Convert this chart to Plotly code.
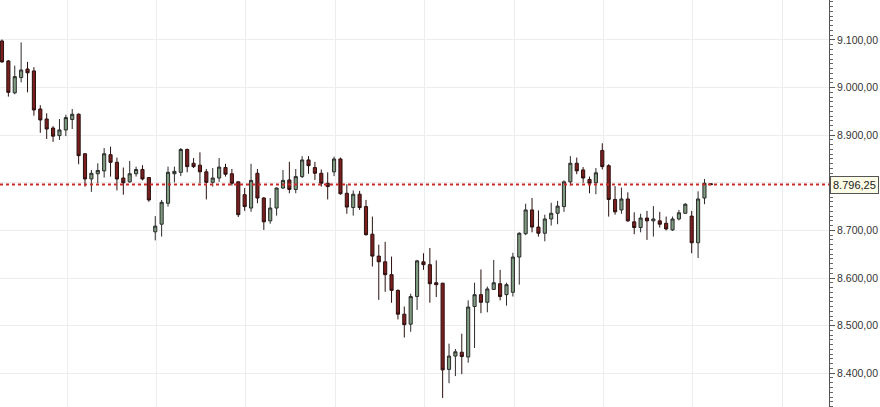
import plotly.graph_objects as go

# OHLC values (one entry per candle, left to right)
opens = [9098, 9056, 8989, 9021, 9039, 9035, 8955, 8934, 8915, 8899, 8911, 8933, 8944, 8861, 8808, 8819,
         8825, 8859, 8843, 8810, 8802, 8819, 8828, 8811, 8697, 8713, 8757, 8819, 8822, 8870, 8841, 8837,
         8823, 8801, 8810, 8832, 8819, 8802, 8775, 8747, 8820, 8768, 8720, 8747, 8789, 8806, 8786, 8813,
         8848, 8832, 8820, 8799, 8823, 8850, 8778, 8748, 8776, 8750, 8692, 8646, 8634, 8607, 8574, 8524,
         8503, 8561, 8634, 8628, 8590, 8589, 8408, 8436, 8444, 8434, 8540, 8565, 8549, 8576, 8588, 8565,
         8570, 8644, 8693, 8743, 8707, 8694, 8724, 8736, 8750, 8802, 8841, 8827, 8807, 8800, 8868, 8836,
         8765, 8743, 8766, 8718, 8706, 8726, 8720, 8720, 8715, 8701, 8724, 8736, 8730, 8674, 8768, 8798]
highs = [9101, 9058, 9046, 9095, 9054, 9043, 8963, 8946, 8919, 8934, 8943, 8955, 8946, 8862, 8827, 8841,
         8873, 8876, 8853, 8832, 8846, 8834, 8837, 8812, 8730, 8764, 8834, 8834, 8873, 8872, 8852, 8864,
         8829, 8831, 8852, 8840, 8829, 8803, 8789, 8840, 8829, 8770, 8768, 8790, 8827, 8844, 8829, 8856,
         8856, 8844, 8828, 8822, 8855, 8853, 8797, 8784, 8783, 8764, 8729, 8670, 8676, 8645, 8576, 8540,
         8567, 8638, 8652, 8663, 8637, 8590, 8462, 8451, 8483, 8553, 8590, 8618, 8582, 8638, 8617, 8590,
         8653, 8696, 8756, 8768, 8742, 8733, 8758, 8762, 8805, 8856, 8853, 8833, 8813, 8831, 8883, 8839,
         8793, 8790, 8780, 8738, 8735, 8741, 8751, 8739, 8729, 8729, 8743, 8757, 8741, 8782, 8808, 8799]
lows = [9052, 8981, 8986, 9011, 8990, 8941, 8905, 8892, 8886, 8890, 8898, 8913, 8839, 8792, 8781, 8799,
        8811, 8813, 8784, 8775, 8800, 8813, 8805, 8760, 8679, 8687, 8750, 8801, 8814, 8822, 8831, 8799,
        8765, 8792, 8802, 8813, 8794, 8728, 8741, 8739, 8757, 8701, 8714, 8731, 8787, 8778, 8778, 8810,
        8819, 8806, 8792, 8765, 8814, 8775, 8735, 8731, 8743, 8689, 8624, 8554, 8571, 8548, 8513, 8475,
        8487, 8533, 8617, 8548, 8560, 8348, 8379, 8394, 8398, 8422, 8453, 8526, 8528, 8575, 8553, 8542,
        8561, 8586, 8690, 8696, 8687, 8677, 8710, 8713, 8739, 8794, 8818, 8800, 8778, 8776, 8828, 8729,
        8733, 8735, 8718, 8692, 8696, 8680, 8687, 8706, 8700, 8699, 8721, 8735, 8652, 8642, 8755, 8795]
closes = [9054, 8990, 9023, 9037, 9031, 8953, 8932, 8913, 8898, 8911, 8937, 8944, 8857, 8808, 8820, 8826,
          8861, 8843, 8808, 8800, 8819, 8828, 8808, 8764, 8709, 8759, 8822, 8824, 8870, 8834, 8834, 8823,
          8801, 8810, 8833, 8818, 8799, 8733, 8750, 8805, 8768, 8718, 8747, 8789, 8805, 8786, 8813, 8848,
          8836, 8820, 8799, 8792, 8850, 8777, 8749, 8776, 8748, 8691, 8646, 8634, 8607, 8574, 8524, 8502,
          8561, 8636, 8628, 8588, 8586, 8407, 8436, 8445, 8435, 8539, 8565, 8549, 8577, 8590, 8561, 8586,
          8644, 8694, 8743, 8707, 8694, 8724, 8736, 8751, 8802, 8841, 8825, 8810, 8799, 8821, 8834, 8765,
          8739, 8766, 8720, 8706, 8726, 8720, 8724, 8713, 8703, 8724, 8737, 8755, 8674, 8766, 8799, 8796.25]

last_price = 8796.25
last_label = "8.796,25"
y_ticks = [8400, 8500, 8600, 8700, 8800, 8900, 9000, 9100]
y_labels = ["8.400,00", "8.500,00", "8.600,00", "8.700,00", "", "8.900,00", "9.000,00", "9.100,00"]

x = list(range(len(opens)))

fig = go.Figure()
fig.add_trace(go.Candlestick(
    x=x, open=opens, high=highs, low=lows, close=closes,
    increasing=dict(line=dict(color="#2b2b2b", width=1), fillcolor="#7f9c80"),
    decreasing=dict(line=dict(color="#2b1010", width=1), fillcolor="#7a1e1e"),
    whiskerwidth=0,
    showlegend=False,
    hoverinfo="skip",
))

fig.add_shape(type="line", xref="paper", x0=0, x1=1, yref="y", y0=last_price, y1=last_price,
              line=dict(color="#cc2a2a", width=2, dash="dot"), layer="above")

fig.add_annotation(xref="paper", x=1, xanchor="left", xshift=1, yref="y", y=last_price,
                   text=last_label, showarrow=False,
                   font=dict(family="Liberation Sans, Arial, sans-serif", size=11, color="#222"),
                   bgcolor="#fbfbe6", bordercolor="#555", borderwidth=1, borderpad=2)

fig.update_layout(
    width=880, height=407,
    margin=dict(l=0, r=51, t=0, b=0),
    paper_bgcolor="white", plot_bgcolor="white",
    font=dict(family="Liberation Sans, Arial, sans-serif", size=11, color="#333"),
    xaxis=dict(range=[-0.31, 129.5], rangeslider=dict(visible=False), showticklabels=False,
               ticks="", showgrid=True, gridcolor="#ededed", gridwidth=1,
               tick0=10.2, dtick=14, tickmode="linear", zeroline=False, showline=False),
    yaxis=dict(range=[8329, 9184], side="right", tickmode="array", tickvals=y_ticks,
               ticktext=y_labels, ticks="outside", ticklen=5, tickcolor="#555",
               showline=True, linecolor="#555", linewidth=1,
               showgrid=True, gridcolor="#ededed", gridwidth=1, zeroline=False,
               minor=dict(dtick=10, tick0=0, ticks="outside", ticklen=3, tickcolor="#666", showgrid=False),
               tickfont=dict(size=10.5, color="#333")),
)

fig.write_html("out.html", config={"displayModeBar": False},
               post_script="document.body.style.margin='0';document.body.style.overflow='hidden';")
